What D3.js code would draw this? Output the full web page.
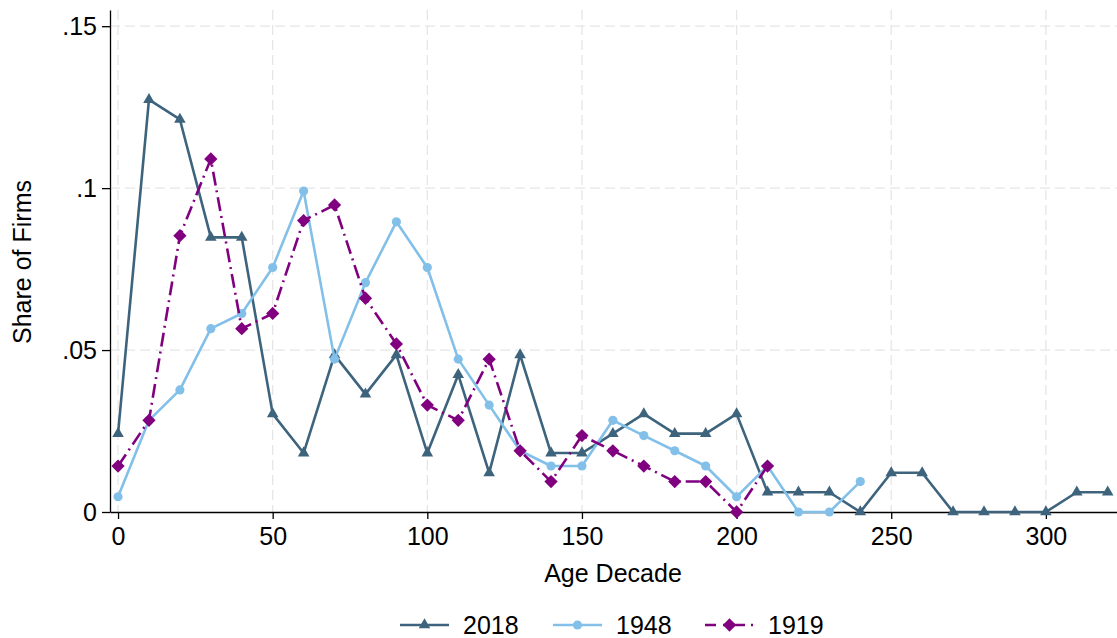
<!DOCTYPE html>
<html>
<head>
<meta charset="utf-8">
<script src="https://cdn.jsdelivr.net/npm/d3@7"></script>
<style>
  body { margin: 0; background: #fff; }
  text { font-family: Arial, "Liberation Sans", sans-serif; }
</style>
</head>
<body>
<div id="chart"></div>
<script>
// Age decades (x) for each series
const ages2018 = [0,10,20,30,40,50,60,70,80,90,100,110,120,130,140,150,160,170,180,190,200,210,220,230,240,250,260,270,280,290,300,310,320];
const share2018 = [0.0242,0.1273,0.1212,0.0848,0.0848,0.0303,0.0182,0.0485,0.0364,0.0485,0.0182,0.0424,0.0121,0.0485,0.0182,0.0182,0.0242,0.0303,0.0242,0.0242,0.0303,0.0061,0.0061,0.0061,0,0.0121,0.0121,0,0,0,0,0.0061,0.0061];

const ages1948 = [0,10,20,30,40,50,60,70,80,90,100,110,120,130,140,150,160,170,180,190,200,210,220,230,240];
const share1948 = [0.0047,0.0283,0.0377,0.0566,0.0613,0.0755,0.0991,0.0472,0.0708,0.0896,0.0755,0.0472,0.0330,0.0189,0.0142,0.0142,0.0283,0.0236,0.0189,0.0142,0.0047,0.0142,0,0,0.0094];

const ages1919 = [0,10,20,30,40,50,60,70,80,90,100,110,120,130,140,150,160,170,180,190,200,210];
const share1919 = [0.0142,0.0283,0.0853,0.1090,0.0566,0.0613,0.0900,0.0948,0.0660,0.0519,0.0330,0.0283,0.0472,0.0189,0.0094,0.0236,0.0189,0.0142,0.0094,0.0094,0,0.0142];

const xTicks = [0,50,100,150,200,250,300];
const yTicks = [0,0.05,0.1,0.15];
const yTickLabels = ["0",".05",".1",".15"];

const width = 1117;
const height = 638;
const marginLeft = 110;
const marginRight = 0;
const marginTop = 10;
const marginBottom = 126;
const fontSize = "25px";

const series = [
  { name: "2018", ages: ages2018, values: share2018, color: "#3e647d", dash: null, symbol: "triangle" },
  { name: "1948", ages: ages1948, values: share1948, color: "#82c0e9", dash: null, symbol: "circle" },
  { name: "1919", ages: ages1919, values: share1919, color: "#800080", dash: "14,5,2,5", symbol: "diamond" }
];

const x = d3.scaleLinear()
  .domain([-2.6, 323])
  .range([marginLeft, width - marginRight]);

const y = d3.scaleLinear()
  .domain([0, 0.155])
  .range([height - marginBottom, marginTop]);

const svg = d3.select("#chart")
  .append("svg")
  .attr("width", width)
  .attr("height", height)
  .attr("viewBox", [0, 0, width, height]);

// Grid lines
const grid = svg.append("g");
grid.selectAll("line.v")
  .data(xTicks)
  .join("line")
  .attr("x1", d => x(d))
  .attr("x2", d => x(d))
  .attr("y1", marginTop)
  .attr("y2", height - marginBottom)
  .attr("stroke", "#e6e6e6")
  .attr("stroke-width", 1.3)
  .attr("stroke-dasharray", "10,5");

grid.selectAll("line.h")
  .data(yTicks.slice(1))
  .join("line")
  .attr("x1", marginLeft)
  .attr("x2", width - marginRight)
  .attr("y1", d => y(d))
  .attr("y2", d => y(d))
  .attr("stroke", "#e6e6e6")
  .attr("stroke-width", 1.3)
  .attr("stroke-dasharray", "10,5");

// Axes
const xAxis = svg.append("g")
  .attr("transform", `translate(0,${height - marginBottom})`)
  .call(d3.axisBottom(x).tickValues(xTicks).tickSize(7).tickPadding(8).tickSizeOuter(0));

const yAxis = svg.append("g")
  .attr("transform", `translate(${marginLeft},0)`)
  .call(d3.axisLeft(y).tickValues(yTicks).tickFormat((d, i) => yTickLabels[i]).tickSize(8).tickPadding(5).tickSizeOuter(0));

[xAxis, yAxis].forEach(axis => {
  axis.select(".domain").attr("stroke", "#000").attr("stroke-width", 1.3);
  axis.selectAll(".tick line").attr("stroke", "#000").attr("stroke-width", 1.3);
  axis.selectAll(".tick text")
    .attr("fill", "#000")
    .style("font-size", fontSize);
});

// Markers
function symbolPath(kind) {
  if (kind === "triangle") return d3.symbol().type(d3.symbolTriangle).size(58)();
  if (kind === "circle") return d3.symbol().type(d3.symbolCircle).size(66)();
  return d3.symbol().type(d3.symbolSquare).size(88)();
}

const line = d3.line()
  .x(d => x(d[0]))
  .y(d => y(d[1]));

series.forEach(s => {
  const pts = s.ages.map((a, i) => [a, s.values[i]]);
  const g = svg.append("g");
  g.append("path")
    .datum(pts)
    .attr("fill", "none")
    .attr("stroke", s.color)
    .attr("stroke-width", 2.6)
    .attr("stroke-linejoin", "round")
    .attr("stroke-dasharray", s.dash)
    .attr("d", line);
  g.selectAll("path.m")
    .data(pts)
    .join("path")
    .attr("d", symbolPath(s.symbol))
    .attr("fill", s.color)
    .attr("transform", d => `translate(${x(d[0])},${y(d[1])})` + (s.symbol === "diamond" ? " rotate(45)" : ""));
});

// Axis titles
svg.append("text")
  .attr("x", 613)
  .attr("y", 582)
  .attr("text-anchor", "middle")
  .style("font-size", fontSize)
  .text("Age Decade");

svg.append("text")
  .attr("transform", `translate(31,262) rotate(-90)`)
  .attr("text-anchor", "middle")
  .style("font-size", fontSize)
  .text("Share of Firms");

// Legend
const legendX = [400, 553, 705];
const legend = svg.append("g").attr("transform", "translate(0,625)");
series.forEach((s, i) => {
  const lg = legend.append("g").attr("transform", `translate(${legendX[i]},0)`);
  lg.append("line")
    .attr("x1", 0).attr("x2", 49)
    .attr("y1", 0).attr("y2", 0)
    .attr("stroke", s.color)
    .attr("stroke-width", 2.6)
    .attr("stroke-dasharray", s.dash ? "11,7,22,6,2,100" : null);
  lg.append("path")
    .attr("d", symbolPath(s.symbol))
    .attr("fill", s.color)
    .attr("transform", `translate(24.5,0)` + (s.symbol === "diamond" ? " rotate(45)" : ""));
  lg.append("text")
    .attr("x", 63)
    .attr("y", 9)
    .style("font-size", fontSize)
    .text(s.name);
});
</script>
</body>
</html>
